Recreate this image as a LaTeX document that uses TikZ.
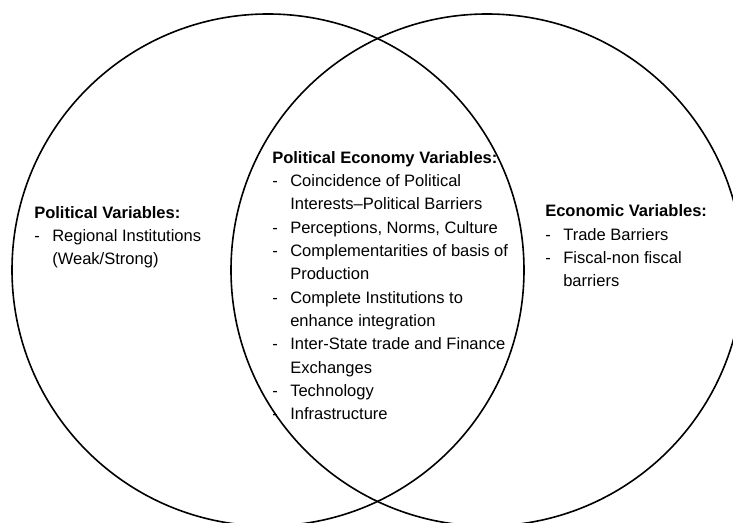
\documentclass[tikz,border=0pt]{standalone}
\usepackage{fontspec}
\setmainfont{Liberation Sans}
\newcommand{\dashitem}[1]{\makebox[13.5pt][l]{-}#1}
\newcommand{\contitem}[1]{\hspace*{13.5pt}#1}

\begin{document}
\begin{tikzpicture}[
        x=0.75pt, y=-0.75pt,
        set/.style={draw, circle, line width=1.2pt, minimum size=384pt, inner sep=0pt},
        varlist/.style={anchor=base west, align=left, inner sep=0pt,
            font=\fontsize{12.4}{17.5}\selectfont}]

    \useasboundingbox (0,0) rectangle (733,523);
    \clip (0,0) rectangle (733,523);

    \node [set] (politics) at (268,270) {};
    \node [set] (economics) at (487,270) {};

    \node [varlist] (polvars) at (34,265) {\textbf{Political Variables:}\\
        \dashitem{Regional Institutions}\\
        \contitem{(Weak/Strong)}};

    \node [varlist] (pevars) at (272,420) {\textbf{Political Economy Variables:}\\
        \dashitem{Coincidence of Political}\\
        \contitem{Interests–Political Barriers}\\
        \dashitem{Perceptions, Norms, Culture}\\
        \dashitem{Complementarities of basis of}\\
        \contitem{Production}\\
        \dashitem{Complete Institutions to}\\
        \contitem{enhance integration}\\
        \dashitem{Inter-State trade and Finance}\\
        \contitem{Exchanges}\\
        \dashitem{Technology}\\
        \dashitem{Infrastructure}};

    \node [varlist] (ecovars) at (545,287) {\textbf{Economic Variables:}\\
        \dashitem{Trade Barriers}\\
        \dashitem{Fiscal-non fiscal}\\
        \contitem{barriers}};
\end{tikzpicture}
\end{document}
